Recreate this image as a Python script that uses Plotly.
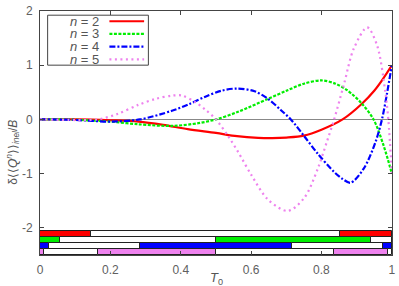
import plotly.graph_objects as go

# ---- data ----
t_n2 = [0, 0.1, 0.2, 0.28, 0.35, 0.42, 0.5, 0.56, 0.62, 0.66, 0.7, 0.75, 0.8, 0.86, 0.915, 0.95, 0.975, 1.0]
v_n2 = [0, 0.002, -0.015, -0.04, -0.1, -0.18, -0.25, -0.31, -0.34, -0.345, -0.335, -0.3, -0.19, 0, 0.29, 0.53, 0.75, 1.0]

t_n3 = [0, 0.057, 0.15, 0.2, 0.28, 0.375, 0.45, 0.5, 0.563, 0.648, 0.704, 0.75, 0.8, 0.84, 0.873, 0.915, 0.948, 0.977, 1.0]
v_n3 = [0, 0, -0.02, -0.04, -0.09, -0.12, -0.07, 0, 0.14, 0.38, 0.54, 0.66, 0.72, 0.66, 0.54, 0.29, 0, -0.49, -1.0]

t_n4 = [0, 0.025, 0.1, 0.2, 0.284, 0.375, 0.423, 0.47, 0.516, 0.56, 0.61, 0.648, 0.685, 0.713, 0.751, 0.789, 0.836, 0.86, 0.883, 0.92, 0.953, 0.972, 0.986, 1.0]
v_n4 = [0, 0, -0.01, -0.04, 0, 0.16, 0.28, 0.42, 0.53, 0.57, 0.52, 0.38, 0.17, 0, -0.31, -0.63, -0.97, -1.1, -1.17, -0.91, -0.43, 0, 0.47, 1.0]

t_n5 = [0, 0.01, 0.08, 0.164, 0.22, 0.28, 0.329, 0.375, 0.404, 0.441, 0.47, 0.5, 0.535, 0.563, 0.601, 0.648, 0.704, 0.751, 0.789, 0.815, 0.836, 0.864, 0.892, 0.93, 0.958, 0.981, 0.99, 1.0]
v_n5 = [0, 0, -0.01, 0, 0.1, 0.27, 0.38, 0.44, 0.44, 0.32, 0.18, 0, -0.31, -0.6, -1.03, -1.48, -1.69, -1.45, -0.92, -0.42, 0, 0.65, 1.31, 1.70, 1.37, 0.53, 0, -1.0]

# sign bars: interval edges, first interval filled (positive), alternating
edges_n2 = [0, 0.146, 0.854, 1.0]
edges_n3 = [0, 0.057, 0.5, 0.942, 1.0]
edges_n4 = [0, 0.025, 0.284, 0.716, 0.974, 1.0]
edges_n5 = [0, 0.01, 0.164, 0.5, 0.836, 0.99, 1.0]
bar_rows = [-2.116, -2.227, -2.338, -2.449]

labels = ["<i>n</i> = 2", "<i>n</i> = 3", "<i>n</i> = 4", "<i>n</i> = 5"]
x_ticks = [0, 0.2, 0.4, 0.6, 0.8, 1.0]
x_ticktext = ["0", "0.2", "0.4", "0.6", "0.8", "1"]
y_ticks = [-2, -1, 0, 1, 2]
y_ticktext = ["-2", "-1", "0", "1", "2"]

colors = ["#ff0000", "#00ee00", "#0000ff", "#ee82ee"]
dashes = ["solid", "3px,1.5px", "6px,2px,2px,2px", "2px,3.5px"]

fig = go.Figure()

series = [(t_n2, v_n2), (t_n3, v_n3), (t_n4, v_n4), (t_n5, v_n5)]
for (t, v), c, d in zip(series, colors, dashes):
    fig.add_trace(go.Scatter(x=t, y=v, mode="lines",
                             line=dict(color=c, width=2.2, dash=d, shape="spline", smoothing=0.9),
                             showlegend=False, hoverinfo="skip"))

for edges, yc, c in zip([edges_n2, edges_n3, edges_n4, edges_n5], bar_rows, colors):
    for i in range(len(edges) - 1):
        fill = c if i % 2 == 0 else "#ffffff"
        fig.add_trace(go.Bar(orientation="h", y=[yc], x=[edges[i + 1] - edges[i]], base=[edges[i]],
                             width=0.111, marker=dict(color=fill, line=dict(color="#222222", width=1)),
                             showlegend=False, hoverinfo="skip"))

def px_x(p):
    return (p - 40) / 355.0

def px_y(p):
    return (255 - p) / 250.0

shapes = [dict(type="rect", xref="paper", yref="paper",
               x0=px_x(47.7), x1=px_x(149.3), y0=px_y(60.5), y1=px_y(9.3),
               line=dict(color="#444444", width=1), fillcolor="white", layer="above")]
annotations = []
leg_y = [15.5, 28.5, 41.5, 54.5]
for lab, c, d, yy in zip(labels, colors, dashes, leg_y):
    shapes.append(dict(type="line", xref="paper", yref="paper",
                       x0=px_x(110), x1=px_x(145), y0=px_y(yy), y1=px_y(yy),
                       line=dict(color=c, width=2.2, dash=d), layer="above"))
    annotations.append(dict(xref="paper", yref="paper", x=px_x(102), y=px_y(yy),
                            xanchor="right", yanchor="middle", text=lab, showarrow=False,
                            font=dict(size=13, color="#555555")))

annotations.append(dict(xref="paper", yref="paper", x=px_x(12), y=px_y(150), textangle=-90,
                        xanchor="center", yanchor="middle", showarrow=False,
                        text="δ⟨⟨<i>Q</i><sup><i>n</i></sup>⟩⟩<sub><i>inel</i></sub>/<i>B</i>",
                        font=dict(size=12, color="#555555")))
annotations.append(dict(xref="paper", yref="paper", x=0.5, y=px_y(279),
                        xanchor="center", yanchor="middle", showarrow=False,
                        text="<i>T</i><sub>0</sub>", font=dict(size=13, color="#555555")))

fig.update_layout(
    width=399, height=286,
    margin=dict(l=40, r=4, t=5, b=31),
    paper_bgcolor="white", plot_bgcolor="white",
    barmode="overlay", bargap=0,
    font=dict(family="Liberation Sans", size=12, color="#606060"),
    shapes=shapes, annotations=annotations,
    xaxis=dict(range=[0, 1.0005], tickvals=x_ticks, ticktext=x_ticktext, ticks="inside", ticklen=4,
               tickcolor="#444444", showline=True, linecolor="#444444", linewidth=1, mirror="ticks",
               showgrid=False, zeroline=False, ticklabelstandoff=4, ticklabeloverflow="allow"),
    yaxis=dict(range=[-2.505, 2.003], tickvals=y_ticks, ticktext=y_ticktext, ticks="inside", ticklen=4,
               tickcolor="#444444", showline=True, linecolor="#444444", linewidth=1, mirror="ticks",
               showgrid=False, zeroline=True, zerolinecolor="#888888", zerolinewidth=1,
               ticklabelstandoff=4, ticklabeloverflow="allow"),
)

fig.write_html("out.html", config={"displayModeBar": False},
               post_script="document.body.style.margin='0px';")
